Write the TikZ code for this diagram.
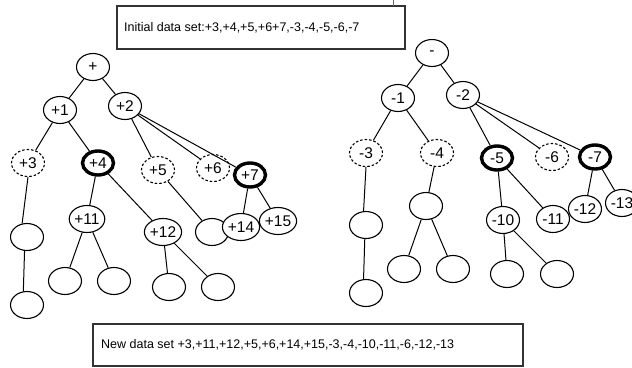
\documentclass[tikz,border=0pt]{standalone}
\usepackage{fontspec}
\setmainfont{Liberation Sans}
\usetikzlibrary{shapes.geometric}
\begin{document}
\begin{tikzpicture}[x=1pt,y=-1pt,
  nd/.style={ellipse,draw,line width=1.1pt,fill=white,minimum width=33pt,minimum height=27pt,inner sep=0pt,font=\fontsize{15.5}{16}\selectfont},
  dsh/.style={nd,dash pattern=on 2.5pt off 2pt},
  thk/.style={nd,line width=3.4pt,minimum width=31pt,minimum height=24pt},
  edge/.style={line width=1pt},
  box/.style={draw=black!80,line width=1.3pt,inner sep=0pt,anchor=north west},
  boxtxt/.style={font=\fontsize{12.5}{13}\selectfont,anchor=west,inner sep=0pt}]
\useasboundingbox (0,0) rectangle (632,367);
\clip (0,0) rectangle (632,367);
% boxes
\draw[box] (117,6) rectangle (405,49);
\draw[draw=black!60,line width=1pt] (393,0) -- (393,6);
\node[boxtxt] (t1) at (124,27.5) {Initial data set:+3,+4,+5,+6+7,-3,-4,-5,-6,-7};
\draw[box] (93,324) rectangle (523,366);
\node[boxtxt] (t2) at (101,345) {New data set +3,+11,+12,+5,+6,+14,+15,-3,-4,-10,-11,-6,-12,-13};
% left tree
\node[nd] (lr) at (93,67) {+};
\node[nd] (l1) at (60,110) {+1};
\node[nd] (l2) at (125,106) {+2};
\node[dsh] (l3) at (28,163) {+3};
\node[thk] (l4) at (98,163) {+4};
\node[dsh] (l5) at (158,170) {+5};
\node[dsh] (l6) at (213,168) {+6};
\node[thk] (l7) at (250,175) {+7};
\node[nd] (lb1) at (27,237) {};
\node[nd] (lb2) at (27,305) {};
\node[nd] (l11) at (87,219) {+11};
\node[nd] (l12) at (163,232) {+12};
\node[nd] (la) at (212,232) {};
\node[nd] (l14) at (241,227) {+14};
\node[nd] (l15) at (278,221) {+15};
\node[nd] (lc1) at (65,281) {};
\node[nd] (lc2) at (114,281) {};
\node[nd] (ld1) at (169,287) {};
\node[nd] (ld2) at (218,287) {};
% right tree
\node[nd] (rr) at (432,53) {-};
\node[nd] (r1) at (398,98) {-1};
\node[nd] (r2) at (463,95) {-2};
\node[dsh] (r3) at (366,153) {-3};
\node[dsh] (r4) at (437,153) {-4};
\node[thk] (r5) at (497,158) {-5};
\node[dsh] (r6) at (552,157) {-6};
\node[thk] (r7) at (595,157) {-7};
\node[nd] (rb1) at (366,225) {};
\node[nd] (rb2) at (366,293) {};
\node[nd] (ra) at (426,206) {};
\node[nd] (rc1) at (404,269) {};
\node[nd] (rc2) at (453,269) {};
\node[nd] (r10) at (503,220) {-10};
\node[nd] (r11) at (553,219) {-11};
\node[nd] (r12) at (585,209) {-12};
\node[nd] (r13) at (622,203) {-13};
\node[nd] (rd1) at (507,274) {};
\node[nd] (rd2) at (557,274) {};
% left edges
\draw[edge] (lr) -- (l1);
\draw[edge] (lr) -- (l2);
\draw[edge] (l1) -- (l3);
\draw[edge] (l1) -- (l4);
\draw[edge] (l2) -- (l5);
\draw[edge] (l2) -- (l6);
\draw[edge] (l2) -- (l7);
\draw[edge] (l3.south) -- (lb1.110);
\draw[edge] (lb1.260) -- (lb2.105);
\draw[edge] (l4) -- (l11);
\draw[edge] (l4) -- (l12);
\draw[edge] (l5) -- (la);
\draw[edge] (l7) -- (l14);
\draw[edge] (l7) -- (l15);
\draw[edge] (l11) -- (lc1);
\draw[edge] (l11) -- (lc2);
\draw[edge] (l12) -- (ld1);
\draw[edge] (l12) -- (ld2);
% right edges
\draw[edge] (rr) -- (r1);
\draw[edge] (rr) -- (r2);
\draw[edge] (r1) -- (r3);
\draw[edge] (r1) -- (r4);
\draw[edge] (r2) -- (r5);
\draw[edge] (r2) -- (r6);
\draw[edge] (r2) -- (r7);
\draw[edge] (r3.south) -- (rb1.100);
\draw[edge] (rb1.265) -- (rb2.100);
\draw[edge] (r4) -- (ra);
\draw[edge] (ra) -- (rc1);
\draw[edge] (ra) -- (rc2);
\draw[edge] (r5) -- (r10);
\draw[edge] (r5) -- (r11);
\draw[edge] (r7) -- (r12);
\draw[edge] (r7) -- (r13);
\draw[edge] (r10) -- (rd1);
\draw[edge] (r10) -- (rd2);
\end{tikzpicture}
\end{document}
